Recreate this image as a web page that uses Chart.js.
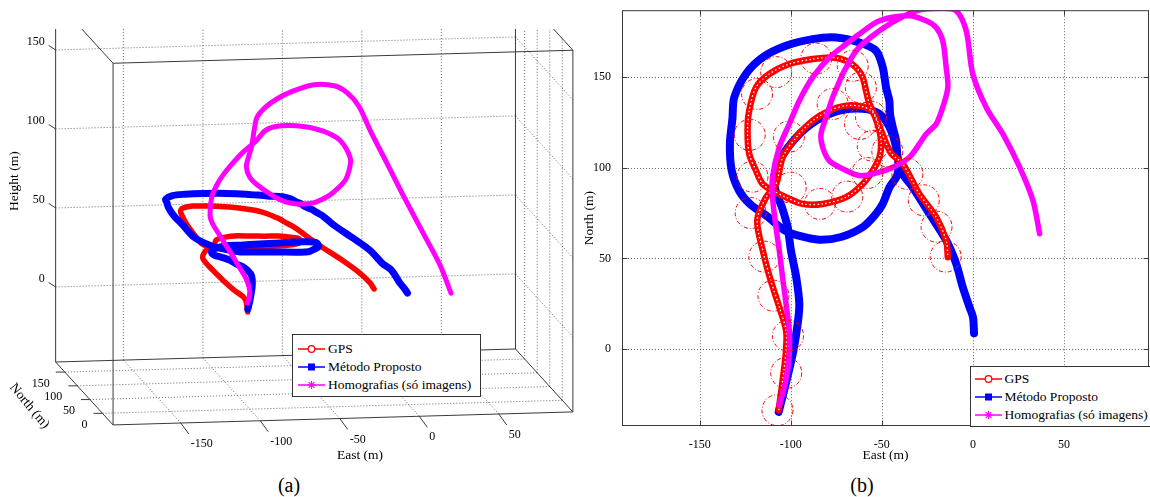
<!DOCTYPE html>
<html>
<head>
<meta charset="utf-8">
<script src="https://cdn.jsdelivr.net/npm/chart.js@4.4.1/dist/chart.umd.min.js"></script>
<style>
  html, body { margin: 0; padding: 0; background: #fff; }
  body { width: 1150px; height: 497px; position: relative; overflow: hidden;
         font-family: "Liberation Serif", "Times New Roman", serif; color: #000; }
  #wa { position: absolute; left: 0; top: 29px; }
  #wb { position: absolute; left: 580px; top: 0; }
  .legend { position: absolute; background: #fff; border: 1px solid #333; box-sizing: border-box; font-size: 13.5px; }
  .legend .row { position: absolute; left: 0; height: 18px; line-height: 18px; white-space: nowrap; }
  .legend svg { position: absolute; top: 0; }
  .legend span { position: absolute; top: 0; }
  .cap { position: absolute; top: 473px; width: 40px; text-align: center; font-size: 20px; line-height: 24px; }
</style>
</head>
<body>
<div id="wa"><canvas id="chartA" width="580" height="441"></canvas></div>
<div id="wb"><canvas id="chartB" width="570" height="470"></canvas></div>
<div class="legend" id="legA" style="left:292px; top:334px; width:189px; height:63px"></div>
<div class="legend" id="legB" style="left:970px; top:366px; width:190px; height:61px"></div>
<div class="cap" style="left:269px">(a)</div>
<div class="cap" style="left:842px">(b)</div>

<script>
// ---- data (metres) ----
const GPS_E = [-106.6,-103.5,-102.6,-102.5,-106.2,-111,-114.9,-118.4,-113.5,-108,-104.4,-97,-88,-78.8,-69.6,-60.5,-55,-51.3,-50.4,-51.3,-55,-60.5,-69.6,-82.5,-93.5,-102.6,-110,-115.5,-119.1,-122.8,-123.7,-122.8,-119.1,-111.8,-100.8,-88,-77,-69.6,-64.1,-60.5,-58.7,-56.8,-53.2,-49.5,-45,-38.5,-29.4,-20.2,-14.7,-13.8];
const GPS_N = [-33.5,-9.7,-0.5,10,23,37.9,52.6,70.9,83.7,91,105.7,116.6,125.8,131.3,134.1,133.5,130.4,120.3,113,105.7,98.4,91,83.7,80,80,83.7,87.4,91,98.4,107.5,120.3,131.3,144.1,151.5,157,159.7,160.6,158.8,155.1,149.6,142.3,135,127.6,118,108,102,85.5,72.7,59.9,50.7];
const GPS_H = [20,21,21.5,22,24,28,31.7,36.4,39.7,40.8,41.3,41,40,38.6,37.8,37.7,37.5,38.5,38.5,38.5,38.7,39.4,40.3,40.7,41,40,39.6,41.6,46,51.6,55,55.7,55.3,55,53.7,52.3,50.6,49.4,48,47,46.9,46.3,44.9,43,40,35.6,30.6,24.4,19.4,17.3];

const MET_E = [-106.6,-103,-98.8,-96.2,-95.3,-97,-99.9,-101.7,-104.8,-108.5,-109,-106.3,-97,-86,-73.3,-60.5,-51.3,-44.8,-41.3,-41.5,-45.8,-49.5,-53.2,-60.4,-72.4,-84.4,-96.4,-103.4,-112.4,-122.4,-128.4,-132.4,-133.4,-132,-131,-124.6,-115.5,-102.6,-88,-75.1,-62.3,-53.2,-49.5,-47.7,-45.9,-45.5,-44,-42.2,-41.3,-38.5,-33.1,-23.9,-14.7,-9.2,-5.6,-1.9,0,0.6];
const MET_N = [-34.4,-20,-2,14,25,39.7,54.4,67.2,78,88,95,103.8,116.6,125.8,131.3,132.3,129.5,120,105.7,96,89.2,80,74.6,67.3,61.8,60.3,62.7,65.4,72.8,80,87.4,98.4,113,127,138.6,151.5,160.6,167,170.7,171.6,168.8,164.3,155.1,144.1,136.8,129.5,122.1,114.8,105.7,96.5,89.2,74.6,59.9,47.1,34.2,23.2,17.7,8.8];
const MET_H = [22,25,30,32,33.5,35,35,35,35,35,35.5,36,35.4,34,33.4,33.5,34.4,36,37.7,37,36.5,37,37.7,39,40.4,41,41,42,43.5,48,54.7,59,61.7,62,62,62,61,60,59,58,57,57,57,57,57,57,57,57,57,56,51.6,46,40,34,32,25.5,23,21.6];

const HOM_E = [-106.3,-102.6,-100.8,-100.8,-102.6,-104.5,-106.3,-108.1,-110,-110,-106.3,-100.8,-95.3,-88,-78.8,-69.6,-62.3,-51.3,-34.9,-25.7,-20.2,-16.6,-14.7,-13.8,-16.6,-20.2,-25.7,-29.4,-34.9,-44,-55,-62.3,-69.6,-78.8,-82.5,-83.4,-80.6,-77,-74.3,-71.5,-64.1,-55.8,-45.8,-31.2,-16.6,-9.2,-3.7,-0.1,7.3,16.4,25.6,32.9,36.6];
const HOM_N = [-30.8,-17,-2.4,10.4,25.1,39.7,54.4,67.2,83.7,94.7,111.2,124,136.8,149.6,160.6,168,173.5,180.8,183.5,180.8,177.1,169.8,155.1,144.1,133.1,124,118.5,113,105.7,100.2,96.5,95.6,98.4,103.8,111.2,118.5,127.6,138.6,145,151.5,164.3,172,179,186.3,187.7,186.3,175.3,151.5,133.1,118.5,100.2,81.9,63.6];
const HOM_H = [25.3,27.8,30.3,33.7,38,42.7,46.8,50.8,55.4,59,67.6,73.4,76.5,80.7,86.6,92,97.9,99,97.3,95,92.9,90.9,87.7,82.6,77.7,73.7,69.7,68.2,66.5,64,64.3,65.9,69.4,75.7,79.6,84.7,89.3,93.7,103,110,114,117.6,120.6,123.3,122,117.6,111,99.3,82,61.6,41.6,25.1,11];

// GPS uncertainty circles (centre east / north, radius in metres)
const ERR_E = [-107.3,-102.5,-101.5,-109.5,-114.5,-122,-121,-122.5,-118.5,-108,-86,-66,-61.5,-56,-55,-47,-36,-27,-20,-15,-100,-84,-69,-58,-101,-77,-62];
const ERR_N = [-33.5,-13,7.5,29.5,51,75,95,118,140.5,152.5,160,156,144,128,112,109,96.5,82,67.5,51,89,80,84,97,117,135,124];
const ERR_R = 8.5;

const EAST_TICKS = [-150, -100, -50, 0, 50];
const NORTH_TICKS = [0, 50, 100, 150];
const HEIGHT_TICKS = [0, 50, 100, 150];
const EAST_LIM = [-192.6, 96.6];
const NORTH_LIM = [-42.2, 186.6];
const HEIGHT_LIM = [-47.5, 181.4];
const SERIES = ['GPS', 'Método Proposto', 'Homografias (só imagens)'];

// ---- styles ----
const RED = '#ff0000', BLUE = '#0000ff', MAGENTA = '#ff00ff';
const GRID = 'rgba(70,70,70,0.8)';
const AXIS = '#3a3a3a';
const FONT = '"Liberation Serif", "Times New Roman", serif';

// orthographic camera of view (a), screen px per metre
const VIEW = { x0: 408.7, ex: 1.59, nx: -0.251, y0: 329.6, ey: -0.045, ny: -0.275, hy: -1.58 };
const proj = (e, n, h) => ({ x: VIEW.x0 + VIEW.ex * e + VIEW.nx * n, y: VIEW.y0 + VIEW.ey * e + VIEW.ny * n + VIEW.hy * h });

const pts2d = (E, N) => E.map((e, i) => ({ x: e, y: N[i] }));
const pts3d = (E, N, H) => E.map((e, i) => proj(e, N[i], H[i]));

const track = (data, color, width, order, extra) => Object.assign({
  data, showLine: true, borderColor: color, backgroundColor: color, borderWidth: width,
  pointRadius: 0, tension: 0.3, borderCapStyle: 'round', borderJoinStyle: 'round', order
}, extra || {});

function seg(ctx, x1, y1, x2, y2) { ctx.beginPath(); ctx.moveTo(x1, y1); ctx.lineTo(x2, y2); ctx.stroke(); }

// ---------- (a) 3-D view ----------
const [E0, E1] = EAST_LIM, [N0, N1] = NORTH_LIM, [H0, H1] = HEIGHT_LIM;

const box3d = {
  id: 'box3d',
  beforeDatasetsDraw(chart) {
    const { ctx, scales: { x, y } } = chart;
    const P = (e, n, h) => { const p = proj(e, n, h); return [x.getPixelForValue(p.x), y.getPixelForValue(p.y)]; };
    const L = (a, b) => seg(ctx, a[0], a[1], b[0], b[1]);
    ctx.save();
    ctx.lineWidth = 1; ctx.strokeStyle = GRID; ctx.setLineDash([1, 2]);
    // back wall (north max)
    EAST_TICKS.forEach(e => L(P(e, N1, H0), P(e, N1, H1)));
    HEIGHT_TICKS.forEach(h => L(P(E0, N1, h), P(E1, N1, h)));
    // side wall (east max)
    NORTH_TICKS.forEach(n => L(P(E1, n, H0), P(E1, n, H1)));
    HEIGHT_TICKS.forEach(h => L(P(E1, N0, h), P(E1, N1, h)));
    // floor
    EAST_TICKS.forEach(e => L(P(e, N0, H0), P(e, N1, H0)));
    NORTH_TICKS.forEach(n => L(P(E0, n, H0), P(E1, n, H0)));
    // box edges
    ctx.setLineDash([]); ctx.strokeStyle = AXIS;
    [[H0], [H1]].forEach(([h]) => {
      L(P(E0, N0, h), P(E1, N0, h)); L(P(E0, N1, h), P(E1, N1, h));
      L(P(E0, N0, h), P(E0, N1, h)); L(P(E1, N0, h), P(E1, N1, h));
    });
    [[E0, N0], [E1, N0], [E0, N1], [E1, N1]].forEach(([e, n]) => L(P(e, n, H0), P(e, n, H1)));
    ctx.restore();
  },
  afterDraw(chart) {
    const { ctx, scales: { x, y } } = chart;
    const P = (e, n, h) => { const p = proj(e, n, h); return [x.getPixelForValue(p.x), y.getPixelForValue(p.y)]; };
    ctx.save();
    ctx.strokeStyle = AXIS; ctx.lineWidth = 1; ctx.fillStyle = '#000';
    ctx.font = '12px ' + FONT; ctx.textBaseline = 'middle';
    ctx.textAlign = 'left';
    EAST_TICKS.forEach(e => { const [px, py] = P(e, N0, H0); seg(ctx, px, py, px + 8, py + 11); ctx.fillText(String(e), px + 10, py + 21); });
    ctx.textAlign = 'right';
    NORTH_TICKS.forEach(n => { const [px, py] = P(E0, n, H0); seg(ctx, px, py, px - 9, py); ctx.fillText(String(n), px - 15, py + 11.5); });
    HEIGHT_TICKS.forEach(h => { const [px, py] = P(E0, N1, h); seg(ctx, px, py, px - 7, py - 4.5); ctx.fillText(String(h), px - 11, py - 8.5); });
    ctx.font = '13.5px ' + FONT; ctx.textAlign = 'center';
    let [px, py] = P((E0 + E1) / 2, N0, H0);
    ctx.fillText('East (m)', px + 17, py + 37);
    [px, py] = P(E0, (N0 + N1) / 2, H0);
    ctx.save(); ctx.translate(px - 55, py + 12.6); ctx.rotate(50 * Math.PI / 180); ctx.fillText('North (m)', 0, 0); ctx.restore();
    [px, py] = P(E0, N1, (H0 + H1) / 2);
    ctx.save(); ctx.translate(px - 41.5, py); ctx.rotate(-Math.PI / 2); ctx.fillText('Height (m)', 0, 0); ctx.restore();
    ctx.restore();
  }
};

new Chart(document.getElementById('chartA'), {
  type: 'scatter',
  data: { datasets: [
    track(pts3d(HOM_E, HOM_N, HOM_H), MAGENTA, 5, 1, { label: SERIES[2] }),
    track(pts3d(MET_E, MET_N, MET_H), BLUE, 7, 2, { label: SERIES[1] }),
    track(pts3d(GPS_E, GPS_N, GPS_H), RED, 5.5, 3, { label: SERIES[0] })
  ] },
  options: {
    responsive: false, animation: false, events: [],
    layout: { padding: 0 },
    plugins: { legend: { display: false }, tooltip: { enabled: false } },
    scales: {
      x: { type: 'linear', display: false, min: 0, max: 580 },
      y: { type: 'linear', display: false, min: 29, max: 470, reverse: true }
    }
  },
  plugins: [box3d]
});

// ---------- (b) plan view ----------
const frame2d = {
  id: 'frame2d',
  beforeDatasetsDraw(chart) {
    const { ctx, chartArea: a, scales: { x, y } } = chart;
    ctx.save();
    ctx.lineWidth = 1; ctx.strokeStyle = GRID; ctx.setLineDash([1, 2]);
    EAST_TICKS.forEach(v => { const p = Math.round(x.getPixelForValue(v)) + 0.5; seg(ctx, p, a.top, p, a.bottom); });
    NORTH_TICKS.forEach(v => { const p = Math.round(y.getPixelForValue(v)) + 0.5; seg(ctx, a.left, p, a.right, p); });
    ctx.restore();
  },
  afterDatasetsDraw(chart) {
    const { ctx, chartArea: a, scales: { x, y } } = chart;
    ctx.save();
    ctx.beginPath(); ctx.rect(a.left, a.top, a.width, a.height); ctx.clip();
    ctx.strokeStyle = RED; ctx.lineWidth = 1; ctx.setLineDash([4, 2, 1, 2]);
    ERR_E.forEach((e, i) => {
      const cx = x.getPixelForValue(e), cy = y.getPixelForValue(ERR_N[i]);
      const r = Math.abs(x.getPixelForValue(e + ERR_R) - cx);
      ctx.beginPath(); ctx.arc(cx, cy, r, 0, Math.PI * 2); ctx.stroke();
    });
    ctx.restore();
  },
  afterDraw(chart) {
    const { ctx, chartArea: a, scales: { x, y } } = chart;
    ctx.save();
    ctx.strokeStyle = AXIS; ctx.lineWidth = 1;
    const l = a.left + 0.5, r = a.right - 0.5, t = a.top + 0.5, b = a.bottom - 0.5;
    ctx.strokeRect(l, t, r - l, b - t);
    EAST_TICKS.forEach(v => { const p = Math.round(x.getPixelForValue(v)) + 0.5; seg(ctx, p, b, p, b - 5); seg(ctx, p, t, p, t + 5); });
    NORTH_TICKS.forEach(v => { const p = Math.round(y.getPixelForValue(v)) + 0.5; seg(ctx, l, p, l + 5, p); seg(ctx, r, p, r - 5, p); });
    ctx.restore();
  }
};

const tickFont = { family: FONT, size: 12 };
const titleFont = { family: FONT, size: 13.5 };

new Chart(document.getElementById('chartB'), {
  type: 'scatter',
  data: { datasets: [
    track(pts2d(HOM_E, HOM_N), MAGENTA, 5.5, 1, { label: SERIES[2] }),
    track(pts2d(GPS_E, GPS_N), '#ffffff', 1.3, 2, { label: 'GPS markers', borderDash: [1.5, 2.5], borderCapStyle: 'butt' }),
    track(pts2d(GPS_E, GPS_N), RED, 6.5, 3, { label: SERIES[0] }),
    track(pts2d(MET_E, MET_N), BLUE, 8, 4, { label: SERIES[1] })
  ] },
  options: {
    responsive: false, animation: false, events: [],
    layout: { padding: { top: 9, right: 1, left: 0, bottom: 0 } },
    plugins: { legend: { display: false }, tooltip: { enabled: false } },
    scales: {
      x: {
        type: 'linear', min: EAST_LIM[0], max: EAST_LIM[1],
        afterBuildTicks: ax => { ax.ticks = EAST_TICKS.map(v => ({ value: v })); },
        afterFit: ax => { ax.height = 44; },
        grid: { display: false }, border: { display: false },
        ticks: { font: tickFont, color: '#000', padding: 4, maxRotation: 0, autoSkip: false },
        title: { display: true, text: 'East (m)', font: titleFont, color: '#000', padding: { top: 0, bottom: 6 } }
      },
      y: {
        type: 'linear', min: NORTH_LIM[0], max: NORTH_LIM[1],
        afterBuildTicks: ax => { ax.ticks = NORTH_TICKS.map(v => ({ value: v })); },
        afterFit: ax => { ax.width = 42; },
        grid: { display: false }, border: { display: false },
        ticks: { font: tickFont, color: '#000', padding: 3, autoSkip: false },
        title: { display: true, text: 'North (m)', font: titleFont, color: '#000', padding: { top: 1, bottom: 0 } }
      }
    }
  },
  plugins: [frame2d]
});

// ---------- legends ----------
const MARKS = [
  `<circle cx="13.5" cy="9" r="3.3" fill="#fff" stroke="${RED}" stroke-width="1.2"/>`,
  `<rect x="10" y="5.5" width="7" height="7" fill="${BLUE}"/>`,
  `<g stroke="${MAGENTA}" stroke-width="1.2"><line x1="13.5" y1="5" x2="13.5" y2="13"/><line x1="9.5" y1="9" x2="17.5" y2="9"/><line x1="10.7" y1="6.2" x2="16.3" y2="11.8"/><line x1="10.7" y1="11.8" x2="16.3" y2="6.2"/></g>`
];
const COLORS = [RED, BLUE, MAGENTA];
function buildLegend(id, rowTops, sampleLeft, textLeft) {
  document.getElementById(id).innerHTML = SERIES.map((s, i) =>
    `<div class="row" style="top:${rowTops[i]}px">` +
    `<svg width="27" height="18" style="left:${sampleLeft}px"><line x1="0" y1="9" x2="27" y2="9" stroke="${COLORS[i]}" stroke-width="1.5"/>${MARKS[i]}</svg>` +
    `<span style="left:${textLeft}px">${s}</span></div>`).join('');
}
buildLegend('legA', [4.5, 22.5, 40.8], 5, 35);
buildLegend('legB', [3.3, 20.7, 39], 4, 33.5);
</script>
</body>
</html>
